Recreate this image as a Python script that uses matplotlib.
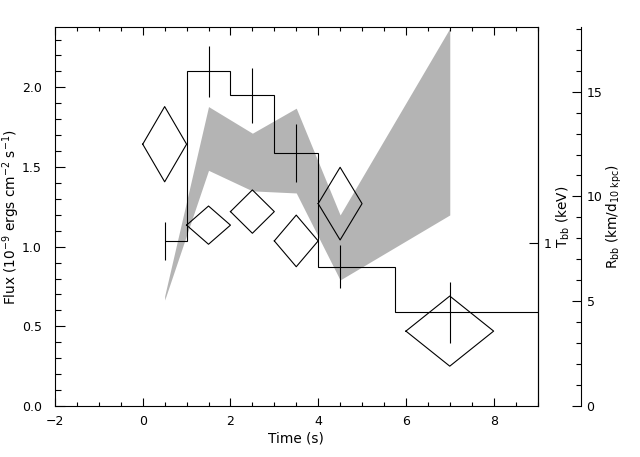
import numpy as np
import matplotlib
matplotlib.use("Agg")
import matplotlib.pyplot as plt
from matplotlib.ticker import MultipleLocator, FixedLocator, NullLocator, FixedFormatter

# ---- data ----
bin_edges = [0.5, 1.0, 2.0, 3.0, 4.0, 5.75, 9.0]
flux_hist = [1.035, 2.105, 1.95, 1.587, 0.87, 0.59]

err_t = [0.5, 1.5, 2.5, 3.5, 4.5, 7.0]
err_f = [1.035, 2.10, 1.95, 1.588, 0.875, 0.587]
err_df = [0.12, 0.162, 0.171, 0.18, 0.136, 0.194]

band_t = [0.5, 1.5, 2.5, 3.5, 4.5, 7.0]
band_hi = [0.69, 1.879, 1.712, 1.869, 1.199, 2.37]
band_lo = [0.665, 1.479, 1.35, 1.337, 0.791, 1.199]

dia_t = [0.5, 1.5, 2.5, 3.5, 4.5, 7.0]
dia_dt = [0.5, 0.5, 0.5, 0.5, 0.5, 1.0]
dia_y = [1.643, 1.135, 1.22, 1.036, 1.27, 0.47]
dia_dy = [0.236, 0.12, 0.136, 0.162, 0.228, 0.22]

xlim = (-2, 9)
ylim = (0, 2.3766)
rlim = (0, 18.07)
tlim = (0.3, 4.9)

plt.rcParams['font.family'] = ['DejaVu Sans']
fs = 9
lfs = 9.8
lw = 0.8

fig = plt.figure(figsize=(6.4, 4.57), dpi=100)
ax = fig.add_axes([55/640, 1-406/457, (537.5-55)/640, (406-27.3)/457])

# grey band
ax.fill_between(band_t, band_lo, band_hi, color='#b4b4b4', linewidth=0, zorder=1)

# histogram
ax.stairs(flux_hist, bin_edges, color='black', linewidth=lw, zorder=3, baseline=None)

# error bars
ax.errorbar(err_t, err_f, yerr=err_df, fmt='none', ecolor='black', elinewidth=lw,
            capsize=0, zorder=3)

# diamonds
for t, dt, y, dy in zip(dia_t, dia_dt, dia_y, dia_dy):
    xs = [t - dt, t, t + dt, t, t - dt]
    ys = [y, y + dy, y, y - dy, y]
    ax.plot(xs, ys, color='black', linewidth=lw, zorder=4)

ax.set_xlim(*xlim)
ax.set_ylim(*ylim)
ax.xaxis.set_major_locator(MultipleLocator(2))
ax.xaxis.set_minor_locator(MultipleLocator(0.5))
ax.yaxis.set_major_locator(MultipleLocator(0.5))
ax.yaxis.set_minor_locator(MultipleLocator(0.1))
ax.yaxis.set_major_formatter(matplotlib.ticker.FormatStrFormatter('%.1f'))
ax.tick_params(axis='x', which='both', direction='in', top=True, bottom=True,
               labelsize=fs, pad=6.3, width=lw)
ax.tick_params(axis='x', which='major', length=5.5)
ax.tick_params(axis='x', which='minor', length=3)
ax.tick_params(axis='y', which='both', direction='in', left=True, right=False,
               labelsize=fs, pad=9.5, width=lw)
ax.tick_params(axis='y', which='major', length=7.5)
ax.tick_params(axis='y', which='minor', length=4.3)
for s in ax.spines.values():
    s.set_linewidth(lw)

ax.set_xlabel('Time (s)', fontsize=lfs)
ax.xaxis.set_label_coords(0.5, -0.0685)
ax.set_ylabel('Flux (10$^{-9}$ ergs cm$^{-2}$ s$^{-1}$)', fontsize=lfs)
ax.yaxis.set_label_coords(-0.0684, 0.5)

# T_bb axis (log) on the main right spine
axT = ax.twinx()
axT.set_yscale('log')
axT.set_ylim(*tlim)
axT.yaxis.set_major_locator(FixedLocator([1.0]))
axT.yaxis.set_major_formatter(FixedFormatter(['1']))
axT.yaxis.set_minor_locator(NullLocator())
axT.tick_params(axis='y', which='major', direction='in', length=6.8, width=lw,
                labelsize=fs, pad=4.5)
axT.set_ylabel('T$_{\\rm bb}$ (keV)', fontsize=lfs)
axT.yaxis.set_label_coords(1.0355, 0.5)
for k in ['top', 'bottom', 'left']:
    axT.spines[k].set_visible(False)
axT.spines['right'].set_linewidth(lw)

# R_bb axis, offset
axR = ax.twinx()
axR.set_ylim(*rlim)
axR.spines['right'].set_position(('axes', (581 - 55) / (537.5 - 55)))
for k in ['top', 'bottom', 'left']:
    axR.spines[k].set_visible(False)
axR.spines['right'].set_linewidth(lw)
axR.yaxis.set_major_locator(MultipleLocator(5))
axR.yaxis.set_minor_locator(MultipleLocator(1))
axR.tick_params(axis='y', which='both', direction='in', width=lw, labelsize=fs, pad=4)
axR.tick_params(axis='y', which='major', length=6.7)
axR.tick_params(axis='y', which='minor', length=3.6)
axR.set_ylabel('R$_{\\rm bb}$ (km/d$_{\\rm 10\\ kpc}$)', fontsize=lfs)
axR.yaxis.set_label_coords(1.1399, 0.5)

fig.savefig('out.png', dpi=100)
